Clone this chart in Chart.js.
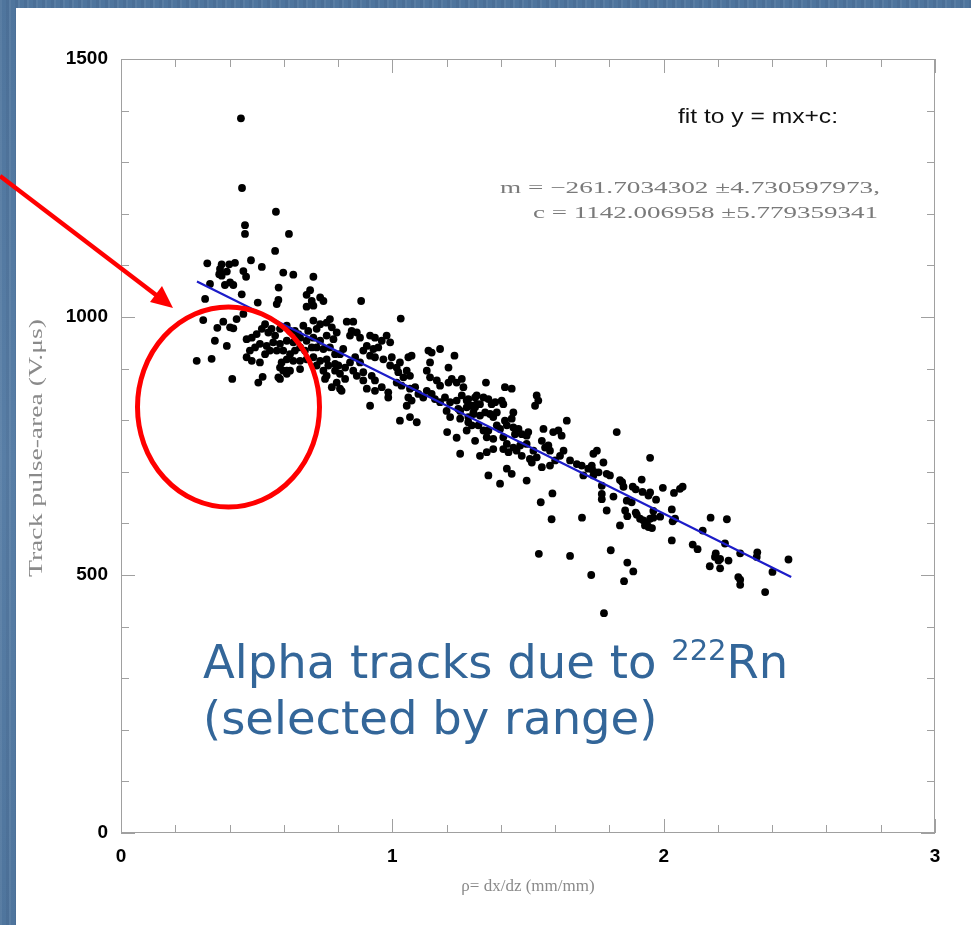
<!DOCTYPE html>
<html><head><meta charset="utf-8">
<script src="https://cdn.jsdelivr.net/npm/chart.js@4.4.1/dist/chart.umd.min.js"></script>
<style>
html,body{margin:0;padding:0;width:971px;height:925px;overflow:hidden;}
body{position:relative;background-color:#53799f;
background-image:repeating-linear-gradient(90deg,rgba(255,255,255,0.06) 0 2px,rgba(0,0,0,0) 2px 6px,rgba(0,0,30,0.05) 6px 9px),linear-gradient(180deg,#4f759d,#587ea6 50%,#4f759d);}
#panel{position:absolute;left:16px;top:8px;right:0;bottom:0;background:#fff;}
#wrap{position:absolute;left:0;top:0;width:971px;height:925px;}
.note{position:absolute;left:203px;color:#336699;font-family:"DejaVu Sans",sans-serif;font-size:44px;line-height:56px;white-space:nowrap;}
.note sup{font-size:29px;vertical-align:0;position:relative;top:-18px;}
</style></head>
<body>
<div id="panel"></div>
<div id="wrap"><canvas id="c" width="971" height="925"></canvas></div>
<div class="note" id="n1" style="top:634px">Alpha tracks due to <sup>222</sup>Rn</div>
<div class="note" id="n2" style="top:690px">(selected by range)</div>
<script>
// ---- data ----
const rhoValues = [
0.442,0.446,0.571,0.457,0.457,0.619,0.568,
0.318,0.371,0.399,0.420,0.479,0.519,0.598,0.635,0.709,0.365,0.362,0.371,0.390,0.451,0.461,0.328,0.383,0.402,0.414,0.581,
0.310,0.445,0.504,0.580,0.574,0.684,0.697,0.703,0.734,0.746,0.709,0.303,0.377,0.414,0.402,0.426,0.451,0.355,0.346,0.390,
0.279,0.334,0.410,0.506,0.522,
0.463,0.482,0.500,0.519,0.531,0.543,0.555,0.568,0.586,0.611,0.623,0.641,0.654,0.672,0.690,0.709,0.721,0.734,0.758,0.777,
0.795,0.783,0.758,0.734,0.709,0.684,0.660,0.635,0.611,0.586,0.561,0.537,0.512,0.494,0.475,0.463,0.482,0.512,0.531,0.549,
0.574,0.598,0.623,0.641,0.660,0.678,0.703,0.721,0.746,0.770,0.789,0.758,0.734,0.709,0.684,0.660,0.635,0.611,0.592,0.586,
0.598,0.611,0.580,0.586,0.611,0.623,0.660,0.721,0.746,0.758,0.789,0.795,0.777,0.752,0.764,0.789,
0.885,1.031,0.684,1.176,1.229,1.145,1.207,
0.770,0.832,0.856,0.850,0.869,0.844,0.881,0.918,0.936,0.961,0.979,0.992,0.906,0.930,0.948,0.893,0.918,0.936,0.807,0.819,
0.801,0.826,0.844,0.863,0.881,0.807,0.826,0.856,0.869,0.893,0.893,0.924,0.936,0.807,0.813,0.918,0.906,0.936,0.961,0.985,
0.985,0.967,0.998,0.992,1.016,1.028,1.022,1.041,1.053,1.065,1.059,1.071,1.016,1.034,1.065,1.084,1.096,1.059,1.071,1.053,
1.028,1.065,1.090,1.114,1.127,1.145,1.157,1.176,1.194,1.213,1.237,1.256,1.280,1.293,1.305,1.311,1.274,1.243,1.200,1.213,
1.250,1.280,1.299,1.133,1.139,1.127,1.139,1.164,1.176,1.207,1.219,1.237,1.256,1.262,
1.345,1.415,1.440,1.532,1.538,1.526,1.311,1.336,1.354,1.274,1.286,1.305,1.323,1.366,1.379,1.403,1.409,1.250,1.299,1.323,
1.342,1.360,1.372,1.385,1.446,1.440,1.415,1.422,1.446,1.385,1.397,1.354,1.336,1.317,1.293,1.274,1.280,1.465,1.477,1.495,
1.501,1.452,1.305,1.348,1.372,1.409,1.422,1.446,1.471,1.495,1.520,1.551,1.563,1.581,1.575,1.557,1.593,1.612,1.624,1.643,
1.250,1.323,1.348,1.372,1.409,1.428,1.458,1.477,1.507,1.514,1.532,1.422,1.440,1.354,1.397,1.495,1.551,1.581,1.600,1.618,
1.631,1.655,1.680,1.698,1.722,1.735,1.741,1.754,1.778,1.760,1.790,1.741,1.704,1.827,
1.950,1.802,1.839,1.852,1.886,1.919,1.772,1.772,1.772,1.815,1.790,1.864,1.882,1.858,1.866,1.901,1.913,1.925,1.938,1.944,
1.950,1.962,1.931,1.962,1.944,1.950,1.997,2.038,2.060,2.070,1.987,2.030,2.033,2.042,1.839,1.805,1.866,1.888,1.854,1.780,
2.030,2.107,2.125,2.144,2.173,2.233,2.226,2.192,2.189,2.202,2.208,2.239,2.170,2.208,2.282,2.345,2.343,2.275,2.282,2.282,
2.374,2.401,2.460,
1.540,1.655,1.733,1.587,1.699,1.547,1.590,1.202,1.237,1.736,1.748,1.847,1.897,1.922,1.972,1.897,1.957
];
const pulseAreaValues = [
1385,1250,1204,1178,1161,1161,1128,
1104,1102,1102,1105,1110,1097,1086,1082,1078,1093,1083,1080,1088,1089,1078,1064,1062,1067,1062,1057,
1035,1044,1028,1033,1025,1043,1052,1031,1038,1031,1022,994,991,978,980,996,1006,979,954,944,
915,919,880,873,884,
957,960,967,977,986,970,977,964,977,983,973,973,967,983,973,993,977,986,989,980,
970,957,964,954,960,954,960,951,954,948,951,944,948,941,935,922,915,912,928,935,
935,935,928,935,941,935,941,941,938,941,928,918,915,922,918,915,915,918,912,902,
896,896,883,880,890,896,899,906,896,886,896,873,864,880,906,909,
1031,997,1020,938,925,931,902,
996,991,991,973,970,964,960,964,960,954,964,951,944,938,941,935,925,922,928,938,
906,902,912,922,912,890,880,896,886,893,877,886,877,861,857,828,861,857,864,854,
844,918,922,906,902,912,893,883,896,886,922,925,873,867,861,864,851,844,838,828,
799,806,796,844,857,851,841,835,844,835,838,848,841,828,844,831,825,822,818,806,
803,806,812,935,912,896,883,877,867,873,880,873,880,864,
873,864,861,848,838,828,848,844,841,838,828,825,831,831,835,838,831,818,815,809,
815,812,806,815,815,803,799,790,786,790,783,780,780,790,790,780,796,783,773,770,
777,773,760,767,764,767,754,747,751,754,741,760,747,741,751,783,777,780,770,799,
735,731,738,744,744,738,741,731,725,718,728,706,696,693,677,683,709,712,722,731,
741,722,715,712,706,712,735,741,718,699,696,693,693,777,
727,693,684,671,671,685,673,657,647,652,625,644,641,625,614,617,609,606,600,593,
609,611,596,624,654,660,669,659,667,671,613,627,604,609,596,548,524,507,488,426,
567,559,550,586,611,608,561,542,535,528,531,528,517,513,542,544,535,496,491,481,
467,506,530,
541,537,500,608,611,641,658,777,766,705,699,680,666,661,646,621,591
];
const fitRho = [0.28, 2.47];
const fitArea = [1069, 496];
const xTickLabels = ['0','1','2','3'];
const yTickLabels = ['0','500','1000','1500'];
const xTitle = '\u03c1= dx/dz (mm/mm)';
const yTitle = 'Track pulse-area (V.\u03bcs)';
const fitTitle = 'fit to y = mx+c:';
const fitSlope = 'm = \u2212261.7034302 \u00b14.730597973,';
const fitIntercept = 'c = 1142.006958 \u00b15.779359341';

const scatterData = rhoValues.map((x,i)=>({x:x, y:pulseAreaValues[i]}));
const fitData = fitRho.map((x,i)=>({x:x, y:fitArea[i]}));

function fitText(ctx, text, x, y, width, align){
  const w = ctx.measureText(text).width;
  const s = width / w;
  ctx.save();
  let x0 = x;
  if(align==='right') x0 = x - width;
  else if(align==='center') x0 = x - width/2;
  ctx.translate(x0, y);
  ctx.scale(s, 1);
  ctx.textAlign = 'left';
  ctx.fillText(text, 0, 0);
  ctx.restore();
}

const framePlugin = {
  id:'frame',
  beforeDatasetsDraw(chart){
    const {ctx, chartArea:a, scales:{x, y}} = chart;
    ctx.save();
    ctx.strokeStyle = '#a0a0a0';
    ctx.lineWidth = 1;
    ctx.strokeRect(a.left+0.5, a.top+0.5, a.right-a.left-1, a.bottom-a.top-1);
    ctx.beginPath();
    for(let i=0;i<=15;i++){
      const v = i*0.2; const px = Math.round(x.getPixelForValue(v))+0.5;
      const len = (i%5===0) ? 14 : 8;
      ctx.moveTo(px, a.bottom); ctx.lineTo(px, a.bottom-len);
      ctx.moveTo(px, a.top); ctx.lineTo(px, a.top+len);
    }
    for(let i=0;i<=15;i++){
      const v = i*100; const py = Math.round(y.getPixelForValue(v))+0.5;
      const len = (i%5===0) ? 14 : 8;
      ctx.moveTo(a.left, py); ctx.lineTo(a.left+len, py);
      ctx.moveTo(a.right, py); ctx.lineTo(a.right-len, py);
    }
    ctx.stroke();
    ctx.restore();
  },
  afterDraw(chart){
    const {ctx, chartArea:a} = chart;
    ctx.save();
    ctx.textBaseline = 'middle';
    // y axis title (rotated, stretched along its length like the original)
    ctx.fillStyle = '#8a8a8a';
    ctx.font = '18px "Liberation Serif", "Times New Roman", serif';
    ctx.save();
    ctx.translate(37, (a.top + a.bottom)/2 + 2);
    ctx.rotate(-Math.PI/2);
    fitText(ctx, yTitle, 0, 0, 258, 'center');
    ctx.restore();
    // fit annotation
    ctx.fillStyle = '#111';
    ctx.font = '20px "Liberation Sans", Arial, sans-serif';
    fitText(ctx, fitTitle, 678, 117, 160, 'left');
    ctx.fillStyle = '#7a7a7a';
    ctx.font = '17px "Liberation Serif", "Times New Roman", serif';
    fitText(ctx, fitSlope, 880, 189, 380, 'right');
    fitText(ctx, fitIntercept, 878, 214, 345, 'right');
    // red arrow
    ctx.strokeStyle = '#ff0000';
    ctx.fillStyle = '#ff0000';
    ctx.lineWidth = 4.5;
    ctx.beginPath();
    ctx.moveTo(0, 176);
    ctx.lineTo(160, 298);
    ctx.stroke();
    ctx.beginPath();
    ctx.moveTo(173, 308);
    ctx.lineTo(150, 302);
    ctx.lineTo(162, 286);
    ctx.closePath();
    ctx.fill();
    // red ellipse
    ctx.lineWidth = 5;
    ctx.beginPath();
    ctx.ellipse(228.5, 407, 91, 100, 0, 0, Math.PI*2);
    ctx.stroke();
    ctx.restore();
  }
};

new Chart(document.getElementById('c'), {
  type:'scatter',
  data:{datasets:[
    {type:'line', data:fitData, borderColor:'#1c1cc8', borderWidth:2.2, pointRadius:0, fill:false, order:0},
    {type:'scatter', data:scatterData, backgroundColor:'#000', borderColor:'#000', borderWidth:0, pointRadius:3.9, order:1}
  ]},
  options:{
    responsive:false, animation:false, devicePixelRatio:1,
    layout:{padding:{left:0, right:36, top:59, bottom:0}},
    plugins:{legend:{display:false}, tooltip:{enabled:false}},
    scales:{
      x:{type:'linear', min:0, max:3,
        afterFit(s){ s.height = 92; },
        grid:{display:false, drawTicks:false},
        border:{display:false},
        ticks:{stepSize:1, padding:12, color:'#000', font:{family:'"Liberation Sans", Arial, sans-serif', size:19, weight:'bold'},
          callback:(v)=>xTickLabels[Math.round(v)] ?? ''},
        title:{display:true, text:xTitle, color:'#8a8a8a', padding:{bottom:28, top:0},
          font:{family:'"Liberation Serif", "Times New Roman", serif', size:17}}
      },
      y:{type:'linear', min:0, max:1500,
        afterFit(s){ s.width = 121; },
        grid:{display:false, drawTicks:false},
        border:{display:false},
        ticks:{stepSize:500, padding:13, color:'#000', font:{family:'"Liberation Sans", Arial, sans-serif', size:19, weight:'bold'},
          callback:(v)=>yTickLabels[Math.round(v/500)] ?? ''},
        title:{display:false}
      }
    }
  },
  plugins:[framePlugin]
});

// match the slide caption width of the original
(function(){
  const n1 = document.getElementById('n1');
  const target = 589;
  const w = n1.getBoundingClientRect().width;
  const fs = 44 * target / w;
  document.querySelectorAll('.note').forEach(el=>{ el.style.fontSize = fs.toFixed(1)+'px'; });
})();
</script>
</body></html>
